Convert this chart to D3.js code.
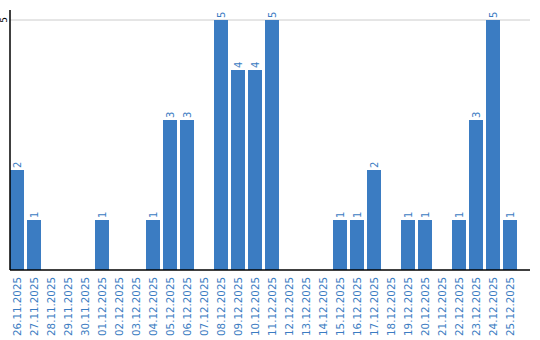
<!DOCTYPE html>
<html>
<head>
<meta charset="utf-8">
<script src="https://cdn.jsdelivr.net/npm/d3@7"></script>
<style>
body{margin:0;background:#fff;}
</style>
</head>
<body>
<script>
var dates=["26.11.2025","27.11.2025","28.11.2025","29.11.2025","30.11.2025","01.12.2025","02.12.2025","03.12.2025","04.12.2025","05.12.2025","06.12.2025","07.12.2025","08.12.2025","09.12.2025","10.12.2025","11.12.2025","12.12.2025","13.12.2025","14.12.2025","15.12.2025","16.12.2025","17.12.2025","18.12.2025","19.12.2025","20.12.2025","21.12.2025","22.12.2025","23.12.2025","24.12.2025","25.12.2025"];
var counts=[2,1,0,0,0,1,0,0,1,3,3,0,5,4,4,5,0,0,0,1,1,2,0,1,1,0,1,3,5,1];
var yTicks=[5];

var blue='#3b7cc2';
var font='DejaVu Sans, Verdana, sans-serif';
var svg=d3.select('body').append('svg').attr('width',540).attr('height',340);

var x=d3.scaleBand().domain(dates).range([10,517]).paddingInner(3/17).paddingOuter(0);
var y=d3.scaleLinear().domain([0,5.2]).range([270,10]);

// gridline
svg.selectAll('.grid').data(yTicks).enter().append('line')
.attr('x1',10).attr('x2',530)
.attr('y1',d=>y(d)).attr('y2',d=>y(d))
.style('stroke','#cccccc').style('stroke-width',1);

svg.selectAll('.bar').data(counts).enter().append('rect')
.attr('x',(d,i)=>x(dates[i]))
.attr('y',d=>y(d))
.attr('width',x.bandwidth())
.attr('height',d=>270-y(d))
.attr('fill',blue);

// value labels
counts.forEach(function(d,i){
  if(d<=0) return;
  var cx=x(dates[i])+x.bandwidth()/2+4;
  var cy=y(d)-2;
  svg.append('text').text(d)
  .attr('transform','translate('+cx+','+cy+') rotate(-90)')
  .style('font-family',font)
  .style('font-size','10px')
  .style('fill',blue);
});

// x tick labels
dates.forEach(function(t){
  var cx=x(t)+x.bandwidth()/2+4;
  svg.append('text').text(t)
  .attr('transform','translate('+cx+',277) rotate(-90)')
  .attr('text-anchor','end')
  .style('font-family',font)
  .style('font-size','10.3px')
  .style('fill',blue);
});

// y tick labels
yTicks.forEach(function(t){
  svg.append('text').text(t)
  .attr('transform','translate(7,'+y(t)+') rotate(-90)')
  .attr('text-anchor','middle')
  .style('font-family',font)
  .style('font-size','9px')
  .style('fill','#000');
});

// axes
svg.append('line').attr('x1',10).attr('x2',10).attr('y1',10).attr('y2',270)
.style('stroke','#000').style('stroke-width',1.5);
svg.append('line').attr('x1',10).attr('x2',530).attr('y1',270).attr('y2',270)
.style('stroke','#000').style('stroke-width',1.5);
</script>
</body>
</html>
